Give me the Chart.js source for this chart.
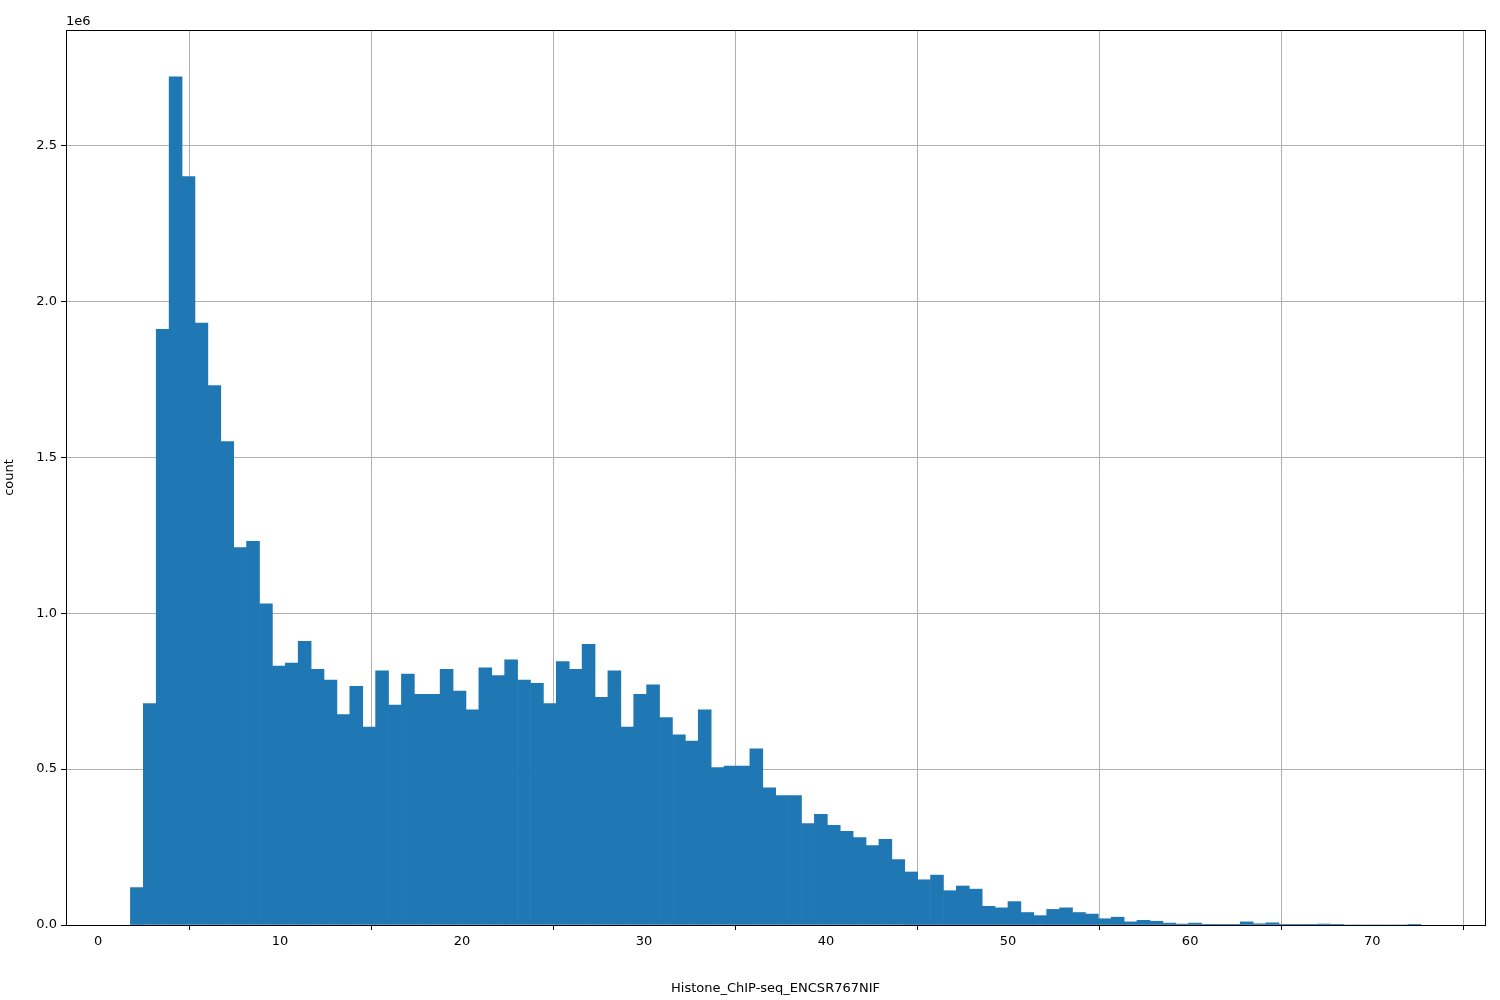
<!DOCTYPE html>
<html>
<head>
<meta charset="utf-8">
<script src="https://cdn.jsdelivr.net/npm/chart.js@4/dist/chart.umd.min.js"></script>
<style>
  html, body { margin: 0; padding: 0; background: #fff; }
  #wrap { width: 1500px; height: 1000px; }
</style>
</head>
<body>
<div id="wrap"><canvas id="hist"></canvas></div>
<script>
// Histogram bins: 100 equal bins from BIN_START, width BIN_WIDTH
const BIN_START = 1.78;
const BIN_WIDTH = 0.709;

// counts in millions
const counts = [
  0.12, 0.71, 1.91, 2.72, 2.40, 1.93, 1.73, 1.55, 1.21, 1.23,
  1.03, 0.83, 0.84, 0.91, 0.82, 0.785, 0.675, 0.765, 0.635, 0.815,
  0.705, 0.805, 0.74, 0.74, 0.82, 0.75, 0.69, 0.825, 0.80, 0.85,
  0.785, 0.775, 0.71, 0.845, 0.82, 0.90, 0.73, 0.815, 0.635, 0.74,
  0.77, 0.665, 0.61, 0.59, 0.69, 0.505, 0.51, 0.51, 0.565, 0.44,
  0.415, 0.415, 0.325, 0.355, 0.32, 0.30, 0.28, 0.255, 0.275, 0.21,
  0.17, 0.145, 0.16, 0.11, 0.125, 0.115, 0.06, 0.055, 0.075, 0.04,
  0.03, 0.05, 0.055, 0.04, 0.035, 0.02, 0.025, 0.01, 0.015, 0.012,
  0.006, 0.003, 0.006, 0.001, 0.001, 0.001, 0.01, 0.004, 0.007, 0.001,
  0.001, 0.001, 0.003, 0.001, 0, 0, 0, 0, 0, 0.001
];

const xTicks = [0, 10, 20, 30, 40, 50, 60, 70];
const yTicks = [0, 0.5, 1.0, 1.5, 2.0, 2.5];

const points = counts.map((c, i) => ({ x: BIN_START + (i + 0.5) * BIN_WIDTH, y: c }));

const FONT = { family: 'DejaVu Sans', size: 13 };

// axes frame + "1e6" offset label, like matplotlib
const framePlugin = {
  id: 'frame',
  afterDraw(chart) {
    const { ctx, chartArea: a } = chart;
    ctx.save();
    ctx.strokeStyle = '#000';
    ctx.lineWidth = 1;
    ctx.strokeRect(a.left + 0.5, a.top + 0.5, a.right - a.left, a.bottom - a.top);
    ctx.fillStyle = '#000';
    ctx.font = '13px DejaVu Sans';
    ctx.textBaseline = 'bottom';
    ctx.fillText('1e6', a.left, a.top - 2);
    ctx.restore();
  }
};

new Chart(document.getElementById('hist'), {
  type: 'bar',
  data: {
    datasets: [{
      data: points,
      backgroundColor: '#1f77b4',
      borderWidth: 0,
      barPercentage: 1,
      categoryPercentage: 1,
    }],
  },
  options: {
    responsive: true,
    maintainAspectRatio: false,
    animation: false,
    layout: { padding: { left: 0, right: 15, top: 30, bottom: 0 } },
    plugins: { legend: { display: false }, tooltip: { enabled: false } },
    scales: {
      x: {
        type: 'linear',
        offset: false,
        min: -1.76,
        max: 76.2,
        z: 1,
        afterBuildTicks: s => { s.ticks = xTicks.map(v => ({ value: v })); },
        afterFit: s => { s.height = 75; },
        ticks: { color: '#000', font: FONT, padding: 4 },
        grid: { color: '#b0b0b0', tickColor: '#000', tickLength: 5 },
        border: { display: false },
        title: { display: true, text: 'Histone_ChIP-seq_ENCSR767NIF', color: '#000', font: FONT, padding: { top: 18 } },
      },
      y: {
        min: 0,
        max: 2.87,
        z: 1,
        afterBuildTicks: s => { s.ticks = yTicks.map(v => ({ value: v })); },
        afterFit: s => { s.width = 66; },
        ticks: { color: '#000', font: FONT, padding: 4, callback: v => v.toFixed(1) },
        grid: { color: '#b0b0b0', tickColor: '#000', tickLength: 5 },
        border: { display: false },
        title: { display: true, text: 'count', color: '#000', font: FONT, padding: 2 },
      },
    },
  },
  plugins: [framePlugin],
});
</script>
</body>
</html>
